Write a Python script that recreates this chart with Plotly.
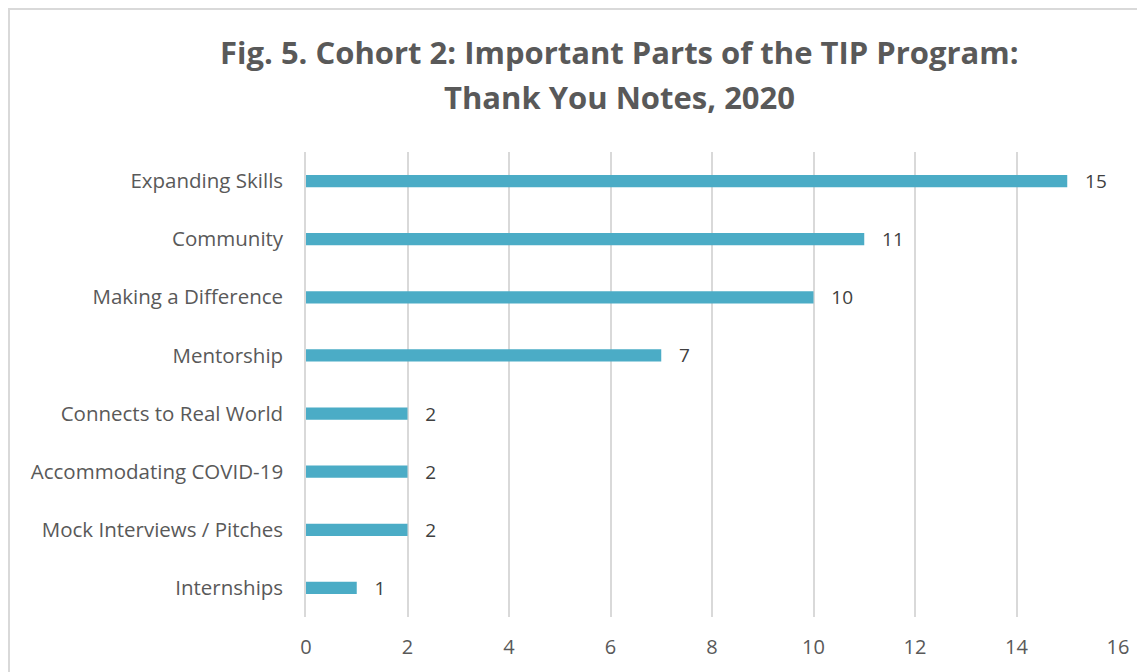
import plotly.graph_objects as go

categories = ["Expanding Skills", "Community", "Making a Difference", "Mentorship",
              "Connects to Real World", "Accommodating COVID-19",
              "Mock Interviews / Pitches", "Internships"]
values = [15, 11, 10, 7, 2, 2, 2, 1]
x_ticks = [0, 2, 4, 6, 8, 10, 12, 14, 16]
title_lines = ["Fig. 5. Cohort 2: Important Parts of the TIP Program:", "Thank You Notes, 2020"]

# page has an 8px body margin; figure sized to fit the 1145x672 viewport
W, H = 1137, 664
L, R, T, B = 298, 27, 144, 55
FONT = "Open Sans"
pw, ph = W - L - R, H - T - B

fig = go.Figure(go.Bar(
    y=categories, x=values, orientation="h",
    marker=dict(color="#4BACC6", line=dict(width=0)),
    width=0.21,
    text=values, texttemplate="   %{x}", textposition="outside",
    constraintext="none",
    textfont=dict(family=FONT, size=19, color="#404040"),
    cliponaxis=False,
))

annotations = []
for line, yc in zip(title_lines, [44, 89]):
    annotations.append(dict(text="<b>" + line + "</b>", xref="paper", yref="paper",
                            x=(611 - L) / pw, y=(H - B - yc) / ph,
                            xanchor="center", yanchor="middle", showarrow=False,
                            font=dict(family=FONT, size=31, color="#595959")))

fig.update_layout(
    width=W, height=H,
    margin=dict(l=L, r=R, t=T, b=B, autoexpand=False),
    paper_bgcolor="white", plot_bgcolor="white",
    showlegend=False,
    annotations=annotations,
    xaxis=dict(range=[0, 16], tickvals=x_ticks, showgrid=True, gridcolor="#d9d9d9",
               gridwidth=1.5, zeroline=False, showline=False,
               ticks="outside", ticklen=12, tickcolor="rgba(0,0,0,0)",
               tickfont=dict(family=FONT, size=20, color="#595959")),
    yaxis=dict(categoryorder="array", categoryarray=categories[::-1],
               showgrid=False, zeroline=False,
               showline=True, linecolor="#d9d9d9", linewidth=1.5,
               ticks="outside", ticklen=17, tickcolor="rgba(0,0,0,0)",
               tickfont=dict(family=FONT, size=20.5, color="#595959")),
    shapes=[dict(type="rect", xref="paper", yref="paper",
                 x0=(1 - L) / pw, x1=(W + 20 - L) / pw,
                 y0=-(B + 20) / ph, y1=(H - B - 1) / ph,
                 line=dict(color="#d9d9d9", width=2), fillcolor="rgba(0,0,0,0)", layer="below")],
)
fig.write_html("out.html")
